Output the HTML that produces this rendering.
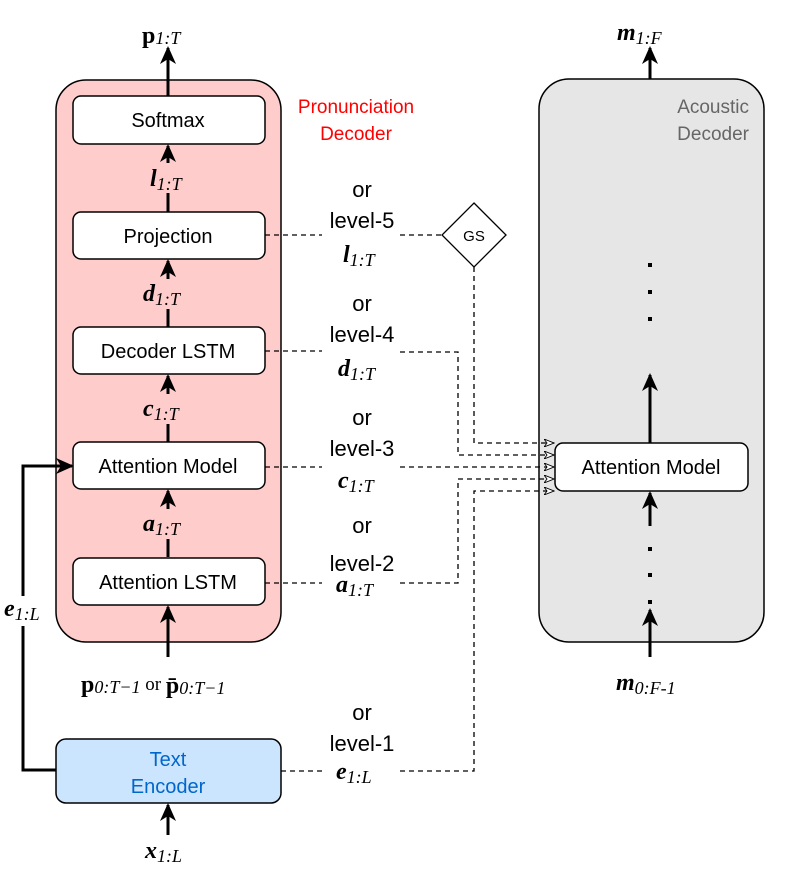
<!DOCTYPE html>
<html><head><meta charset="utf-8"><style>
html,body{margin:0;padding:0;background:#fff}
svg{display:block}
text{font-family:"Liberation Sans",sans-serif}
.m{font-family:"Liberation Serif",serif;font-style:italic;font-weight:bold}
.s{font-family:"Liberation Serif",serif;font-style:italic;font-weight:normal}
.b{font-family:"Liberation Serif",serif;font-weight:bold}
.r{font-family:"Liberation Serif",serif;font-weight:normal}
</style></head><body>
<svg width="798" height="873" viewBox="0 0 798 873" xmlns="http://www.w3.org/2000/svg">
<defs>
<marker id="a" markerWidth="18" markerHeight="16" refX="16" refY="8" orient="auto" markerUnits="userSpaceOnUse"><path d="M0,0 L18,8 L0,16 L5,8 Z" fill="#000"/></marker>
<marker id="o" markerWidth="11" markerHeight="8" refX="10" refY="4" orient="auto" markerUnits="userSpaceOnUse"><path d="M0,0 L10,4 L0,8 L3,4 Z" fill="#fff" stroke="#000" stroke-width="0.9"/></marker>
</defs>
<rect x="56" y="80" width="225" height="562" rx="30" fill="#ffcccc" stroke="#000" stroke-width="1.5"/>
<rect x="539" y="79" width="225" height="563" rx="30" fill="#e6e6e6" stroke="#000" stroke-width="1.5"/>
<text x="356" y="113" font-size="19" fill="#ff0000" text-anchor="middle">Pronunciation</text>
<text x="356" y="140" font-size="19" fill="#ff0000" text-anchor="middle">Decoder</text>
<text x="749" y="113" font-size="19" fill="#666" text-anchor="end">Acoustic</text>
<text x="749" y="140" font-size="19" fill="#666" text-anchor="end">Decoder</text>
<g stroke="#000" stroke-width="3" fill="none">
<line x1="168" y1="96" x2="168" y2="48" marker-end="url(#a)"/>
<line x1="168" y1="212" x2="168" y2="146" marker-end="url(#a)"/>
<line x1="168" y1="327" x2="168" y2="261" marker-end="url(#a)"/>
<line x1="168" y1="442" x2="168" y2="376" marker-end="url(#a)"/>
<line x1="168" y1="557" x2="168" y2="491" marker-end="url(#a)"/>
<line x1="168" y1="657" x2="168" y2="607" marker-end="url(#a)"/>
<line x1="168" y1="835" x2="168" y2="805" marker-end="url(#a)"/>
<polyline points="56,770 23,770 23,466 72,466" marker-end="url(#a)"/>
<line x1="650" y1="79" x2="650" y2="48" marker-end="url(#a)"/>
<line x1="650" y1="443" x2="650" y2="375" marker-end="url(#a)"/>
<line x1="650" y1="526" x2="650" y2="493" marker-end="url(#a)"/>
<line x1="650" y1="657" x2="650" y2="610" marker-end="url(#a)"/>
</g>
<g fill="#000">
<rect x="648" y="263" width="4" height="4"/><rect x="648" y="290" width="4" height="4"/><rect x="648" y="317" width="4" height="4"/>
<rect x="648" y="547" width="4" height="4"/><rect x="648" y="573" width="4" height="4"/><rect x="648" y="600" width="4" height="4"/>
</g>
<g fill="#ffcccc">
<rect x="140" y="163" width="56" height="30"/><rect x="140" y="279" width="56" height="30"/>
<rect x="140" y="394" width="56" height="30"/><rect x="140" y="509" width="56" height="30"/>
</g>
<rect x="5" y="596" width="40" height="30" fill="#fff"/>
<g stroke="#000" stroke-width="1.3" fill="none" stroke-dasharray="5,4">
<line x1="265" y1="235" x2="322" y2="235"/><line x1="400" y1="235" x2="442" y2="235"/>
<polyline points="265,351 322,351"/><polyline points="400,352 458,352 458,455 554,455" marker-end="url(#o)"/>
<polyline points="474,267 474,443 554,443" marker-end="url(#o)"/>
<polyline points="265,467 322,467"/><polyline points="400,467 554,467" marker-end="url(#o)"/>
<polyline points="265,583 322,583"/><polyline points="400,583 458,583 458,479 554,479" marker-end="url(#o)"/>
<polyline points="281,771 322,771"/><polyline points="400,771 474,771 474,491 554,491" marker-end="url(#o)"/>
</g>
<polygon points="474,203 506,235 474,267 442,235" fill="#fff" stroke="#000" stroke-width="1.3"/>
<text x="474" y="241" font-size="15" text-anchor="middle">GS</text>
<g fill="#fff" stroke="#000" stroke-width="1.5">
<rect x="73" y="96" width="192" height="48" rx="8"/>
<rect x="73" y="212" width="192" height="47" rx="8"/>
<rect x="73" y="327" width="192" height="47" rx="8"/>
<rect x="73" y="442" width="192" height="47" rx="8"/>
<rect x="73" y="558" width="192" height="47" rx="8"/>
<rect x="555" y="443" width="193" height="48" rx="8"/>
</g>
<rect x="56" y="739" width="225" height="64" rx="10" fill="#cce5ff" stroke="#000" stroke-width="1.5"/>
<g font-size="20" text-anchor="middle">
<text x="168" y="127">Softmax</text>
<text x="168" y="243">Projection</text>
<text x="168" y="358">Decoder LSTM</text>
<text x="168" y="473">Attention Model</text>
<text x="168" y="589">Attention LSTM</text>
<text x="651" y="474">Attention Model</text>
<text x="168" y="766" fill="#0066cc">Text</text>
<text x="168" y="793" fill="#0066cc">Encoder</text>
</g>
<g font-size="22" text-anchor="middle">
<text x="362" y="197">or</text><text x="362" y="228">level-5</text>
<text x="362" y="311">or</text><text x="362" y="342">level-4</text>
<text x="362" y="425">or</text><text x="362" y="456">level-3</text>
<text x="362" y="533">or</text><text x="362" y="571">level-2</text>
<text x="362" y="720">or</text><text x="362" y="751">level-1</text>
</g>
<g font-size="24">
<text x="343" y="262" class="m">l<tspan class="s" font-size="18" dy="4">1:T</tspan></text>
<text x="338" y="376" class="m">d<tspan class="s" font-size="18" dy="4">1:T</tspan></text>
<text x="338" y="488" class="m">c<tspan class="s" font-size="18" dy="4">1:T</tspan></text>
<text x="336" y="592" class="m">a<tspan class="s" font-size="18" dy="4">1:T</tspan></text>
<text x="336" y="779" class="m">e<tspan class="s" font-size="18" dy="4">1:L</tspan></text>
<text x="150" y="186" class="m">l<tspan class="s" font-size="18" dy="4">1:T</tspan></text>
<text x="143" y="301" class="m">d<tspan class="s" font-size="18" dy="4">1:T</tspan></text>
<text x="143" y="416" class="m">c<tspan class="s" font-size="18" dy="4">1:T</tspan></text>
<text x="143" y="531" class="m">a<tspan class="s" font-size="18" dy="4">1:T</tspan></text>
<text x="4" y="616" class="m">e<tspan class="s" font-size="18" dy="4">1:L</tspan></text>
<text x="145" y="858" class="m">x<tspan class="s" font-size="18" dy="4">1:L</tspan></text>
<text x="617" y="40" class="m">m<tspan class="s" font-size="18" dy="4">1:F</tspan></text>
<text x="616" y="690" class="m">m<tspan class="s" font-size="18" dy="4">0:F-1</tspan></text>
<text x="142" y="43" class="b">p<tspan class="s" font-size="18" dy="1">1:T</tspan></text>
<text x="81" y="692" class="b">p<tspan class="s" font-size="18" dy="1">0:T−1</tspan><tspan class="r" font-size="19" dy="-3"> or </tspan><tspan class="b" dy="3">p̄</tspan><tspan class="s" font-size="18" dy="1">0:T−1</tspan></text>
</g>
</svg>
</body></html>
